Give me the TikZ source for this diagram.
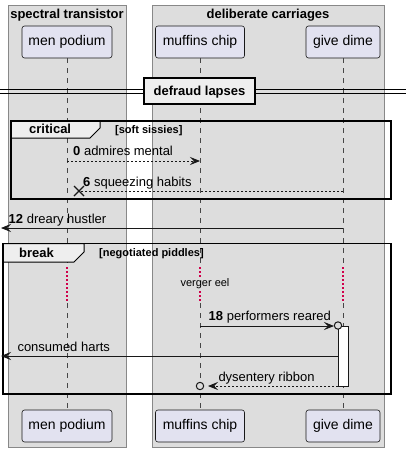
\documentclass[tikz,border=0pt]{standalone}
\usepackage{fontspec}
\setmainfont{Liberation Sans}
\usetikzlibrary{arrows.meta}
\definecolor{grpfill}{HTML}{DDDDDD}
\definecolor{grpline}{HTML}{888888}
\definecolor{partfill}{HTML}{E2E2F0}
\definecolor{ink}{HTML}{181818}
\definecolor{tabfill}{HTML}{EEEEEE}
\definecolor{delayred}{HTML}{D0004A}
\tikzset{
  grpbox/.style={fill=grpfill,draw=grpline,line width=0.8pt},
  partbox/.style={draw=ink,fill=partfill,line width=0.6pt,rounded corners=2.5pt,minimum height=32pt,inner sep=0pt,font=\fontsize{14}{16}\selectfont},
  lifeline/.style={draw=ink!80,line width=0.5pt,dash pattern=on 5pt off 5pt},
  delayline/.style={draw=delayred,line width=1.2pt,dash pattern=on 1.5pt off 2.5pt},
  msg/.style={draw=ink,line width=0.8pt},
  ret/.style={msg,dash pattern=on 2pt off 2pt},
  tip/.style={-{Stealth[length=10pt,width=8pt,inset=4pt]}},
  msglabel/.style={anchor=base west,inner sep=0pt,font=\fontsize{13}{15}\selectfont},
  frameline/.style={draw=black,line width=1.5pt},
  tabline/.style={draw=black,line width=1pt,fill=tabfill},
  frametitle/.style={anchor=base west,inner sep=0pt,font=\bfseries\fontsize{13}{15}\selectfont},
  guard/.style={anchor=base west,inner sep=0pt,font=\bfseries\fontsize{11}{13}\selectfont},
}
\begin{document}
\begin{tikzpicture}[x=1pt,y=-1pt]
\useasboundingbox (0,0) rectangle (406,452);
\fill[white] (0,0) rectangle (406,452);
% group boxes
\draw[grpbox] (8,5) rectangle (126,447);
\draw[grpbox] (152,5) rectangle (384,447);
\node[anchor=base,inner sep=0pt,font=\bfseries\fontsize{13}{15}\selectfont] (g1) at (67,18.5) {spectral transistor};
\node[anchor=base,inner sep=0pt,font=\bfseries\fontsize{13}{15}\selectfont] (g2) at (268,18.5) {deliberate carriages};
% participants
\node[partbox,minimum width=90pt] (mpT) at (67,42) {men podium};
\node[partbox,minimum width=89pt] (mcT) at (200,42) {muffins chip};
\node[partbox,minimum width=74pt] (gdT) at (343,42) {give dime};
\node[partbox,minimum width=90pt] (mpB) at (67,426) {men podium};
\node[partbox,minimum width=89pt] (mcB) at (200,426) {muffins chip};
\node[partbox,minimum width=74pt] (gdB) at (343,426) {give dime};
% lifelines
\coordinate (mpD1) at (67,267); \coordinate (mpD2) at (67,303);
\coordinate (mcD1) at (200,267); \coordinate (mcD2) at (200,303);
\coordinate (gdD1) at (343,267); \coordinate (gdD2) at (343,303);
\draw[lifeline] (mpT.south) -- (mpD1); \draw[delayline] (mpD1) -- (mpD2); \draw[lifeline] (mpD2) -- (mpB.north);
\draw[lifeline] (mcT.south) -- (mcD1); \draw[delayline] (mcD1) -- (mcD2); \draw[lifeline] (mcD2) -- (mcB.north);
\draw[lifeline] (gdT.south) -- (gdD1); \draw[delayline] (gdD1) -- (gdD2); \draw[lifeline] (gdD2) -- (gdB.north);
% divider
\draw[black,line width=0.9pt] (0,89.5) -- (406,89.5);
\draw[black,line width=0.9pt] (0,93.5) -- (406,93.5);
\node[draw=black,line width=1.5pt,fill=tabfill,minimum width=111pt,minimum height=26pt,inner sep=0pt] (div) at (199.5,91) {};
\node[anchor=base,inner sep=0pt,font=\bfseries\fontsize{13}{15}\selectfont] (divt) at (199.5,95.5) {defraud lapses};
% critical frame
\draw[tabline] (11,121) -- (100,121) -- (100,128) -- (90,138) -- (11,138) -- cycle;
\draw[frameline] (11,121) rectangle (391,199);
\node[frametitle] (crit) at (29,133.5) {critical};
\node[guard] (critg) at (115,133) {[soft sissies]};
% message 0
\coordinate (m0a) at (67,161); \coordinate (m0b) at (200,161);
\draw[ret,tip] (m0a) -- (m0b);
\node[msglabel] (l0) at (73,155.5) {\textbf{0} admires mental};
% message 6
\coordinate (m6a) at (343,191); \coordinate (m6b) at (79,191);
\draw[ret] (m6a) -- (m6b);
\draw[ink,line width=1.2pt] (74,186) -- (84,196) (74,196) -- (84,186);
\node[msglabel] (l6) at (83,186.5) {\textbf{6} squeezing habits};
% message 12
\coordinate (m12a) at (343,228); \coordinate (m12b) at (1,228);
\draw[msg,tip] (m12a) -- (m12b);
\node[msglabel] (l12) at (8.5,223.3) {\textbf{12} dreary hustler};
% break frame
\draw[tabline] (3,243.5) -- (84,243.5) -- (84,252) -- (74,262) -- (3,262) -- cycle;
\draw[frameline] (3,243.5) rectangle (391,394);
\node[frametitle] (brk) at (19,257.3) {break};
\node[guard] (brkg) at (99,256.5) {[negotiated piddles]};
\node[anchor=base,inner sep=1pt,fill=grpfill,font=\fontsize{11}{13}\selectfont] (dly) at (205,286) {verger eel};
% activation
\node[draw=ink,fill=white,line width=0.8pt,minimum width=10pt,minimum height=60pt,inner sep=0pt,anchor=north west] (act) at (338,326) {};
% message 18
\coordinate (m18a) at (200,326); \coordinate (m18b) at (334,326);
\draw[msg,tip] (m18a) -- (m18b);
\draw[ink,line width=1pt,fill=grpfill] (338,325.5) circle (3.7pt);
\node[msglabel] (l18) at (208.5,320.7) {\textbf{18} performers reared};
% consumed harts
\coordinate (mcha) at (338,356); \coordinate (mchb) at (1,356);
\draw[msg,tip] (mcha) -- (mchb);
\node[msglabel] (lch) at (17.3,351.3) {consumed harts};
% dysentery ribbon
\coordinate (mdra) at (338,386); \coordinate (mdrb) at (208,386);
\draw[ret,tip] (mdra) -- (mdrb);
\draw[ink,line width=1pt,fill=grpfill] (200,386) circle (3.7pt);
\node[msglabel] (ldr) at (218.3,381.3) {dysentery ribbon};
\end{tikzpicture}
\end{document}
